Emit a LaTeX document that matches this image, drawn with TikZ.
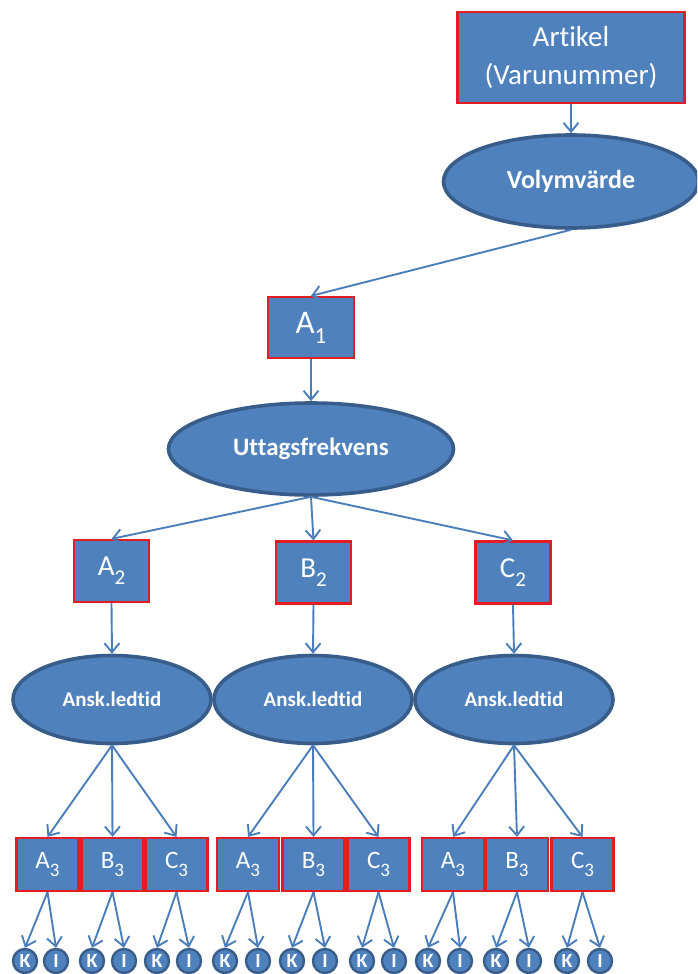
\documentclass[tikz,border=0pt]{standalone}
\usepackage{fontspec}
\setmainfont{Carlito}[Ligatures={NoCommon,NoContextual}]
\usetikzlibrary{arrows.meta,shapes.geometric}
\definecolor{boxfill}{RGB}{79,129,189}
\definecolor{ringblue}{RGB}{56,93,138}
\definecolor{linkblue}{RGB}{74,126,187}
\definecolor{framered}{RGB}{226,30,36}
% lowered index digit at a given size
\newcommand\lowidx[2]{\raisebox{-0.3em}{\fontsize{#1}{#1}\selectfont #2}}
\begin{document}
\begin{tikzpicture}[x=1pt,y=-1pt,
  rectnode/.style={rectangle, fill=boxfill, draw=framered, line width=2.2pt,
    text=white, inner sep=0pt, align=center},
  ovalnode/.style={ellipse, fill=boxfill, draw=ringblue, line width=3.6pt,
    text=white, inner sep=0pt},
  leafnode/.style={circle, fill=boxfill, draw=ringblue, line width=2.4pt,
    text=white, inner sep=0pt, minimum size=24pt,
    font=\fontsize{20}{20}\selectfont\bfseries},
  link/.style={draw=linkblue, line width=1.9pt,
    -{Straight Barb[length=9pt,width=15pt]}},
  lvtwo/.style={rectnode, minimum width=75pt, minimum height=62pt,
    font=\fontsize{29}{29}\selectfont},
  lvthree/.style={rectnode, minimum width=62pt, minimum height=53pt,
    font=\fontsize{25}{25}\selectfont},
  leadoval/.style={ovalnode, minimum width=198pt, minimum height=88pt,
    font=\fontsize{21}{21}\selectfont\bfseries},
]
\clip (0,0) rectangle (697,974);
\fill[white] (0,0) rectangle (697,974);

% top of the tree
\node[rectnode, minimum width=227pt, minimum height=91pt,
  font=\fontsize{29}{38}\selectfont] (art) at (571,57.5) {Artikel\\(Varunummer)};
\node[ovalnode, minimum width=255pt, minimum height=93pt,
  font=\fontsize{26}{26}\selectfont\bfseries] (vol) at (571,181.5) {Volymvärde};
\node[rectnode, minimum width=86pt, minimum height=61pt,
  font=\fontsize{33}{33}\selectfont] (a1) at (311,327.5) {A\lowidx{23}{1}};
\node[ovalnode, minimum width=285pt, minimum height=92pt,
  font=\fontsize{25}{25}\selectfont\bfseries] (utt) at (311,449) {Uttagsfrekvens};

\draw[link] (art.south) -- (vol.north);
\draw[link] (vol.south) -- (a1.north);
\draw[link] (a1.south) -- (utt.north);

% second level
\node[lvtwo] (a2) at (111.5,571) {A\lowidx{21}{2}};
\node[lvtwo] (b2) at (313.5,572.5) {B\lowidx{21}{2}};
\node[lvtwo] (c2) at (513,572.5) {C\lowidx{21}{2}};

\node[leadoval] (la) at (112,699.5) {Ansk.ledtid};
\node[leadoval] (lb) at (313,699.5) {Ansk.ledtid};
\node[leadoval] (lc) at (514,699.5) {Ansk.ledtid};

\foreach \n in {a2,b2,c2} \draw[link] (utt.south) -- (\n.north);
\draw[link] (a2.south) -- (la.north);
\draw[link] (b2.south) -- (lb.north);
\draw[link] (c2.south) -- (lc.north);

% third level boxes and their K/I leaves
\foreach \g/\oval/\xa/\xb/\xc in {1/la/47.5/112.5/176.5, 2/lb/248/313.5/378.5, 3/lc/453/517/582.5}{
  \node[lvthree] (A\g) at (\xa,864.5) {A\lowidx{19}{3}};
  \node[lvthree] (B\g) at (\xb,864.5) {B\lowidx{19}{3}};
  \node[lvthree] (C\g) at (\xc,864.5) {C\lowidx{19}{3}};
  \foreach \b in {A,B,C} \draw[link] (\oval.south) -- (\b\g.north);
}

\foreach \b/\kx/\ix in {A1/25/56, B1/92/124, C1/157/189,
                        A2/225/258, B2/292/325, C2/362/394,
                        A3/428/460, B3/496/529, C3/567/600}{
  \node[leafnode] (k\b) at (\kx,961) {K};
  \node[leafnode] (i\b) at (\ix,961) {I};
  \draw[link] (\b.south) -- (k\b.north);
  \draw[link] (\b.south) -- (i\b.north);
}
\end{tikzpicture}
\end{document}
